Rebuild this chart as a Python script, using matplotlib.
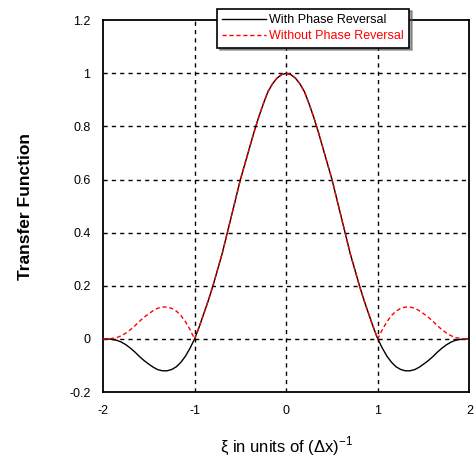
import matplotlib
matplotlib.use("Agg")
import matplotlib.pyplot as plt

plt.rcParams['font.family'] = ['Liberation Sans', 'DejaVu Sans']
plt.rcParams['mathtext.fontset'] = 'custom'
plt.rcParams['mathtext.rm'] = 'Liberation Sans'

# xi values and transfer function
xi = [-2.0, -1.95, -1.9, -1.85, -1.8, -1.75, -1.7, -1.65, -1.6, -1.55,
      -1.5, -1.45, -1.4, -1.35, -1.3, -1.25, -1.2, -1.15, -1.1, -1.05,
      -1.0, -0.95, -0.9, -0.85, -0.8, -0.75, -0.7, -0.65, -0.6, -0.55,
      -0.5, -0.45, -0.4, -0.35, -0.3, -0.25, -0.2, -0.15, -0.1, -0.05,
      0.0, 0.05, 0.1, 0.15, 0.2, 0.25, 0.3, 0.35, 0.4, 0.45,
      0.5, 0.55, 0.6, 0.65, 0.7, 0.75, 0.8, 0.85, 0.9, 0.95,
      1.0, 1.05, 1.1, 1.15, 1.2, 1.25, 1.3, 1.35, 1.4, 1.45,
      1.5, 1.55, 1.6, 1.65, 1.7, 1.75, 1.8, 1.85, 1.9, 1.95, 2.0]
with_rev = [0.0, 0.0, -0.002, -0.005, -0.012, -0.022, -0.035, -0.05, -0.067, -0.082,
            -0.095, -0.107, -0.116, -0.12, -0.12, -0.115, -0.105, -0.088, -0.065, -0.035,
            0.0, 0.045, 0.095, 0.145, 0.2, 0.26, 0.32, 0.39, 0.46, 0.53,
            0.6, 0.66, 0.72, 0.78, 0.835, 0.885, 0.93, 0.96, 0.982, 0.995,
            1.0, 0.995, 0.982, 0.96, 0.93, 0.885, 0.835, 0.78, 0.72, 0.66,
            0.6, 0.53, 0.46, 0.39, 0.32, 0.26, 0.2, 0.145, 0.095, 0.045,
            0.0, -0.035, -0.065, -0.088, -0.105, -0.115, -0.12, -0.12, -0.116, -0.107,
            -0.095, -0.082, -0.067, -0.05, -0.035, -0.022, -0.012, -0.005, -0.002, 0.0, 0.0]
without_rev = [0.0, 0.0, 0.002, 0.005, 0.012, 0.022, 0.035, 0.05, 0.067, 0.082,
               0.095, 0.107, 0.116, 0.12, 0.12, 0.115, 0.105, 0.088, 0.065, 0.035,
               0.0, 0.045, 0.095, 0.145, 0.2, 0.26, 0.32, 0.39, 0.46, 0.53,
               0.6, 0.66, 0.72, 0.78, 0.835, 0.885, 0.93, 0.96, 0.982, 0.995,
               1.0, 0.995, 0.982, 0.96, 0.93, 0.885, 0.835, 0.78, 0.72, 0.66,
               0.6, 0.53, 0.46, 0.39, 0.32, 0.26, 0.2, 0.145, 0.095, 0.045,
               0.0, 0.035, 0.065, 0.088, 0.105, 0.115, 0.12, 0.12, 0.116, 0.107,
               0.095, 0.082, 0.067, 0.05, 0.035, 0.022, 0.012, 0.005, 0.002, 0.0, 0.0]

fig = plt.figure(figsize=(4.77, 4.58), dpi=100)
ax = fig.add_axes([0.216, 0.144, 0.768, 0.812])

# grid lines only at the inner ticks
for gx in [-1, 0, 1]:
    ax.axvline(gx, color='black', linestyle=(0, (3, 3)), linewidth=1, zorder=1)
for gy in [0, 0.2, 0.4, 0.6, 0.8, 1.0]:
    ax.axhline(gy, color='black', linestyle=(0, (3, 3)), linewidth=1, zorder=1)

l1, = ax.plot(xi, with_rev, color='black', linewidth=1, label='With Phase Reversal', zorder=3)
l2, = ax.plot(xi, without_rev, color='red', linewidth=1, linestyle=(0, (3, 2)),
              label='Without Phase Reversal', zorder=4)

ax.set_xlim(-2, 2)
ax.set_ylim(-0.2, 1.2)
ax.set_xticks([-2, -1, 0, 1, 2])
ax.set_xticklabels(['-2', '-1', '0', '1', '2'])
ax.set_yticks([-0.2, 0, 0.2, 0.4, 0.6, 0.8, 1.0, 1.2])
ax.set_yticklabels(['-0.2', '0', '0.2', '0.4', '0.6', '0.8', '1', '1.2'])
ax.tick_params(length=0, labelsize=9, pad=9)
for s in ax.spines.values():
    s.set_linewidth(1.3)

ax.set_ylabel('Transfer Function', fontsize=12.5, fontweight='bold', labelpad=26)
ax.set_xlabel('ξ in units of (Δx)$^{-1}$', fontsize=12, labelpad=13)

leg = fig.legend(handles=[l1, l2], loc='upper center', bbox_to_anchor=(0.656, 0.995),
                 fontsize=9, frameon=True, fancybox=False, shadow=True,
                 edgecolor='black', framealpha=1, handlelength=3.5,
                 handletextpad=0.2, borderpad=0.45, labelspacing=0.3)
leg.get_frame().set_linewidth(1.2)
leg.get_texts()[1].set_color('red')

fig.savefig('out.png', dpi=100)
